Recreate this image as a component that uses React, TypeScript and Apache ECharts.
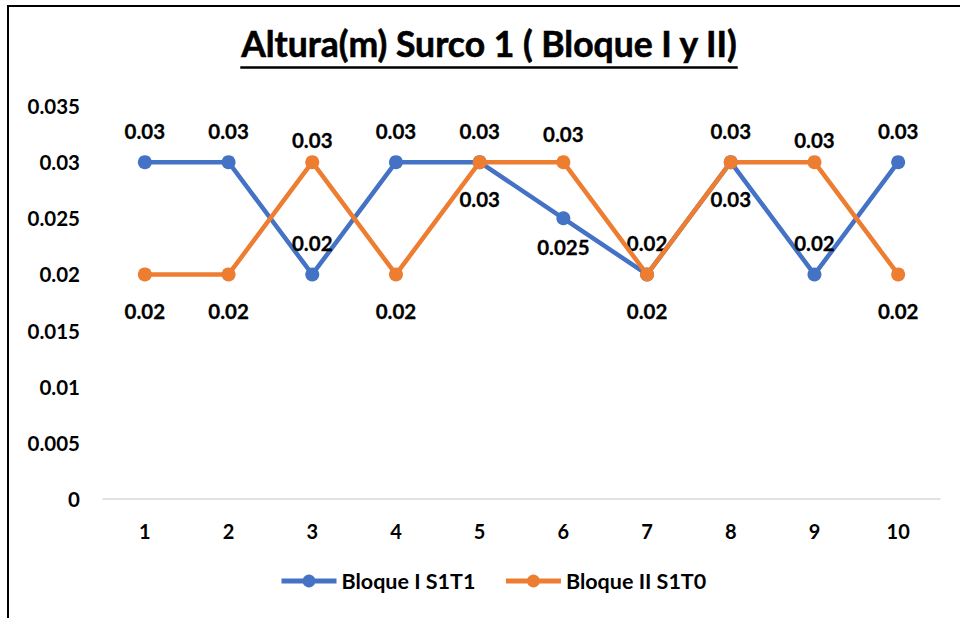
import React, { useEffect, useRef } from "react";
import * as echarts from "echarts";

const categories = ["1", "2", "3", "4", "5", "6", "7", "8", "9", "10"];
const bloqueI = [0.03, 0.03, 0.02, 0.03, 0.03, 0.025, 0.02, 0.03, 0.02, 0.03];
const bloqueII = [0.02, 0.02, 0.03, 0.02, 0.03, 0.03, 0.02, 0.03, 0.03, 0.02];
const seriesNames = ["Bloque I S1T1", "Bloque II S1T0"];
const titleText = "Altura(m) Surco 1 ( Bloque I y II)";

// label placement (style only)
const labelPosI: [string, number][] = [
  ["top", 13.5], ["top", 13.5], ["top", 13.5], ["top", 13.5], ["top", 13.5],
  ["bottom", 11], ["top", 13.5], ["top", 13.5], ["top", 13.5], ["top", 13.5],
];
const labelPosII: [string, number][] = [
  ["bottom", 19.5], ["bottom", 19.5], ["top", 4.5], ["bottom", 19.5], ["bottom", 19.5],
  ["top", 11], ["bottom", 19.5], ["bottom", 19.5], ["top", 4.5], ["bottom", 19.5],
];

const FONT = "Lato, 'Noto Sans', sans-serif";
const BLUE = "#4472C4";
const ORANGE = "#ED7D31";

function buildData(values: number[], pos: [string, number][]) {
  return values.map((v, i) => ({
    value: v,
    label: { position: pos[i][0], distance: pos[i][1] },
  }));
}

export default function App() {
  const ref = useRef<HTMLDivElement>(null);
  useEffect(() => {
    if (!ref.current) return;
    const chart = echarts.init(ref.current, null, { renderer: "svg" });
    const titleSize = 35.5;
    let tw = 494;
    try {
      const c = document.createElement("canvas").getContext("2d");
      if (c) {
        c.font = `bold ${titleSize}px Lato`;
        tw = c.measureText(titleText).width;
      }
    } catch (e) {}
    const cx = 489;
    const labelStyle = {
      show: true,
      fontFamily: FONT,
      fontWeight: "bold",
      fontSize: 20.5,
      color: "#000",
      textBorderColor: "#000",
      textBorderWidth: 0.3,
    };
    chart.setOption({
      animation: false,
      backgroundColor: "#fff",
      textStyle: { fontFamily: FONT },
      graphic: [
        {
          type: "rect",
          shape: { x: 8, y: 6, width: 1000, height: 1000 },
          style: { fill: "none", stroke: "#000", lineWidth: 2 },
          silent: true,
        },
        {
          type: "text",
          x: cx,
          y: 61,
          style: {
            text: titleText,
            font: `bold ${titleSize}px Lato`,
            fill: "#000",
            stroke: "#000",
            lineWidth: 0.6,
            textAlign: "center",
            textVerticalAlign: "bottom",
          },
        },
        {
          type: "line",
          shape: { x1: cx - tw / 2, y1: 67.5, x2: cx + tw / 2, y2: 67.5 },
          style: { stroke: "#000", lineWidth: 2.5 },
        },
      ],
      legend: {
        bottom: 21,
        left: 274,
        itemWidth: 55,
        itemHeight: 16,
        itemGap: 28,
        lineStyle: { width: 5 },
        textStyle: { fontFamily: FONT, fontWeight: "bold", fontSize: 21.5, color: "#000" },
        data: seriesNames,
      },
      grid: { left: 103, right: 20, top: 106, bottom: 119 },
      xAxis: {
        type: "category",
        data: categories,
        boundaryGap: true,
        axisLine: { show: true, lineStyle: { color: "#d9d9d9", width: 1.5 } },
        axisTick: { show: false },
        axisLabel: { fontFamily: FONT, fontWeight: "bold", fontSize: 20, color: "#000", margin: 22 },
      },
      yAxis: {
        type: "value",
        min: 0,
        max: 0.035,
        interval: 0.005,
        axisLine: { show: false },
        axisTick: { show: false },
        splitLine: { show: false },
        axisLabel: {
          fontFamily: FONT,
          fontWeight: "bold",
          fontSize: 20.5,
          color: "#000",
          margin: 23,
          formatter: (v: number) => String(parseFloat(v.toFixed(3))),
        },
      },
      series: [
        {
          name: seriesNames[0],
          type: "line",
          data: buildData(bloqueI, labelPosI),
          color: BLUE,
          symbol: "circle",
          symbolSize: 14,
          lineStyle: { width: 4.5, color: BLUE },
          itemStyle: { color: BLUE },
          label: labelStyle,
          z: 2,
        },
        {
          name: seriesNames[1],
          type: "line",
          data: buildData(bloqueII, labelPosII),
          color: ORANGE,
          symbol: "circle",
          symbolSize: 14,
          lineStyle: { width: 4.5, color: ORANGE },
          itemStyle: { color: ORANGE },
          label: labelStyle,
          z: 3,
        },
      ],
    });
    return () => chart.dispose();
  }, []);
  return (
    <div
      ref={ref}
      style={{ position: "fixed", left: 0, top: 0, width: 960, height: 618 }}
    />
  );
}
